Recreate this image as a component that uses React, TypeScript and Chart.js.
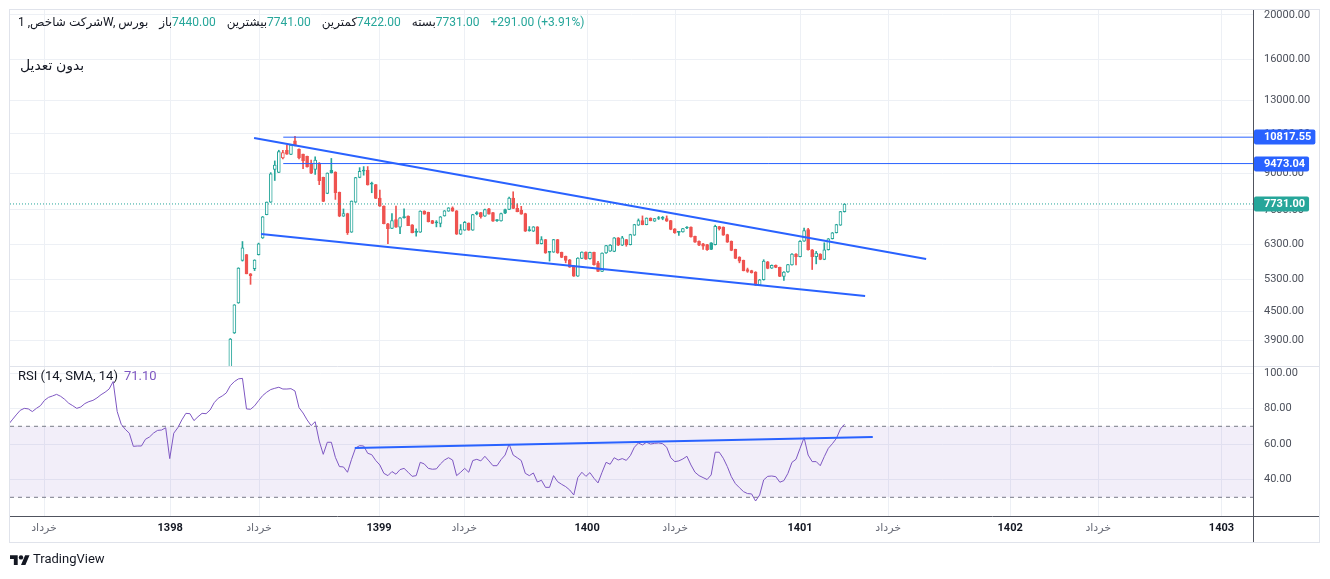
import React, { useEffect, useRef } from 'react';
import { Chart, registerables } from 'chart.js';

Chart.register(...registerables);

// ---------- data ----------
const opens = [
  3350, 4040, 4700, 5820, 5990, 5440, 5580, 5990, 6520, 7330,
  7800, 9200, 9060, 9745, 10130, 9920, 10620, 10180, 9930, 9830,
  9500, 9200, 9500, 8840, 8150, 9160, 9075, 8200, 7270, 7370,
  6710, 7800, 8830, 9160, 9160, 8560, 8520, 7960, 7650, 7000,
  6840, 7150, 6880, 7250, 7270, 6960, 6730, 6710, 7460, 7410,
  7110, 7040, 7010, 7280, 7460, 7580, 7470, 6640, 6775, 7020,
  6775, 7400, 7400, 7270, 7540, 7400, 7130, 7100, 7520, 7520,
  7960, 7560, 7500, 7370, 6780, 6740, 6890, 6330, 6460, 6080,
  6070, 6460, 6060, 5940, 5840, 5665, 5380, 5880, 6070, 5870,
  6060, 5750, 5510, 6040, 6100, 6090, 6520, 6280, 6460, 6300,
  6610, 6950, 7110, 6970, 7200, 7090, 7200, 7210, 7180, 7110,
  6820, 6720, 6720, 6880, 6880, 6570, 6410, 6330, 6300, 6360,
  6300, 6900, 6880, 6630, 6410, 6150, 5920, 5820, 5560, 5530,
  5490, 5140, 5280, 5780, 5600, 5680, 5620, 5370, 5490, 5690,
  6010, 5930, 6410, 6800, 6140, 5930, 6010, 5850, 6140, 6490,
  6690, 6950, 7440,
];
const highs = [
  3930, 4660, 5610, 6400, 6000, 5450, 5840, 6350, 7260, 7810,
  9050, 9600, 10130, 10130, 10390, 10400, 10870, 10200, 9940, 9840,
  9635, 9800, 9520, 8850, 9040, 9720, 9090, 8210, 7540, 7380,
  7850, 8840, 9280, 9330, 9330, 8630, 8530, 8290, 7660, 7010,
  7370, 7650, 7220, 7540, 7280, 6970, 6820, 7470, 7470, 7420,
  7120, 7110, 7260, 7480, 7590, 7620, 7480, 6970, 7080, 7030,
  7340, 7440, 7410, 7530, 7560, 7410, 7150, 7380, 7530, 8000,
  8220, 7740, 7640, 7380, 6900, 6900, 6900, 6560, 6470, 6090,
  6470, 6470, 6070, 5950, 5850, 5670, 5900, 6080, 6080, 6070,
  6070, 5790, 6050, 6280, 6300, 6530, 6530, 6570, 6470, 6640,
  6980, 7170, 7280, 7210, 7210, 7190, 7260, 7260, 7280, 7120,
  6830, 6730, 6840, 6900, 6890, 6580, 6420, 6340, 6310, 6370,
  6950, 6910, 6890, 6640, 6420, 6160, 5930, 5830, 5600, 5540,
  5500, 5290, 5840, 5790, 5690, 5690, 5630, 5500, 5710, 6020,
  6020, 6430, 6850, 6840, 6150, 6090, 6020, 6360, 6500, 6700,
  6980, 7450, 7741,
];
const lows = [
  3330, 4030, 4690, 5800, 5440, 5160, 5530, 5980, 6500, 7320,
  7790, 8700, 9050, 9700, 9920, 9910, 10350, 9700, 9230, 9300,
  9000, 8970, 8520, 7820, 8140, 9030, 7910, 7250, 7260, 6630,
  6700, 7790, 8820, 8935, 8500, 8180, 7940, 7640, 6990, 6330,
  6830, 6870, 6660, 7200, 6930, 6680, 6575, 6700, 7340, 7060,
  7000, 6890, 6890, 7270, 7450, 7450, 6630, 6630, 6770, 6770,
  6770, 7320, 7200, 7260, 7340, 7080, 7080, 7090, 7360, 7510,
  7550, 7430, 7340, 6730, 6740, 6730, 6320, 6320, 6030, 5800,
  6060, 6030, 5900, 5750, 5620, 5370, 5370, 5870, 5850, 5860,
  5680, 5500, 5500, 6030, 6090, 6080, 6270, 6270, 6250, 6290,
  6600, 6940, 6960, 6960, 7100, 7080, 7150, 7140, 7080, 6790,
  6670, 6600, 6710, 6830, 6540, 6370, 6270, 6150, 6120, 6140,
  6290, 6780, 6600, 6370, 6110, 5870, 5750, 5520, 5480, 5460,
  5130, 5130, 5270, 5580, 5590, 5610, 5360, 5260, 5480, 5680,
  5690, 5920, 6400, 6130, 5560, 5720, 5840, 5840, 6130, 6480,
  6680, 6940, 7422,
];
const closes = [
  3918, 4655, 5600, 6200, 5440, 5390, 5830, 6330, 7250, 7800,
  9000, 9400, 10060, 10010, 9930, 10390, 10360, 9745, 9600, 9320,
  9030, 9635, 8690, 7830, 9030, 9040, 8180, 7270, 7370, 6690,
  7840, 8830, 9110, 9120, 8510, 8540, 7950, 7650, 7000, 6830,
  7110, 6880, 7210, 7220, 6935, 6690, 6700, 7460, 7345, 7070,
  7010, 7030, 7250, 7470, 7580, 7460, 6640, 6800, 7045, 6775,
  7330, 7350, 7250, 7520, 7345, 7090, 7110, 7370, 7380, 7960,
  7560, 7440, 7345, 6740, 6760, 6890, 6330, 6460, 6040, 6060,
  6460, 6040, 5910, 5820, 5625, 5380, 5890, 6070, 5860, 6060,
  5700, 5510, 6040, 6270, 6290, 6520, 6280, 6520, 6300, 6630,
  6970, 7110, 6970, 7200, 7110, 7180, 7185, 7190, 7090, 6800,
  6680, 6700, 6830, 6850, 6550, 6380, 6280, 6250, 6140, 6150,
  6910, 6830, 6610, 6380, 6120, 5880, 5800, 5530, 5510, 5470,
  5140, 5280, 5800, 5590, 5680, 5620, 5370, 5490, 5700, 6010,
  5930, 6410, 6760, 6140, 5930, 6040, 5850, 6140, 6490, 6690,
  6970, 7440, 7731,
];

// weekly RSI (14, SMA 14), first value is 55 weeks before the first candle
const RSI_START_WEEK = -55;
const rsiValues = [
  70.8, 73.6, 76.4, 79.0, 80.1, 79.8, 78.3, 80.1, 81.6, 84.6,
  86.3, 87.1, 88.0, 86.9, 85.2, 83.0, 81.6, 80.1, 80.9, 82.8,
  83.9, 84.6, 86.0, 87.8, 89.2, 91.0, 95.2, 78.3, 71.1, 68.3,
  66.1, 58.7, 58.9, 58.9, 62.7, 64.0, 66.2, 67.7, 67.9, 69.2,
  51.8, 66.1, 69.2, 73.6, 77.3, 77.1, 73.2, 75.4, 77.3, 77.1,
  79.2, 83.3, 85.8, 87.1, 88.8, 92.9, 95.2, 96.7, 97.0, 79.8,
  79.6, 81.5, 84.5, 87.3, 89.2, 90.7, 91.4, 92.0, 91.0, 91.0,
  91.2, 89.9, 80.5, 77.5, 73.6, 70.4, 72.6, 61.7, 54.2, 61.0,
  61.0, 52.5, 47.3, 47.1, 44.1, 51.4, 57.8, 59.1, 58.9, 54.8,
  54.0, 50.7, 48.2, 43.5, 42.2, 44.5, 43.0, 45.6, 46.3, 44.1,
  41.8, 42.2, 49.7, 48.8, 46.3, 45.8, 46.0, 48.8, 51.0, 52.3,
  51.0, 42.2, 44.1, 46.3, 44.1, 50.7, 51.4, 50.5, 53.1, 50.5,
  47.8, 47.8, 51.2, 53.8, 60.0, 53.8, 52.3, 50.7, 43.5, 42.2,
  43.7, 38.6, 39.6, 35.6, 35.6, 42.2, 38.8, 37.3, 36.0, 34.1,
  31.3, 41.1, 44.1, 41.8, 43.9, 40.7, 38.1, 44.1, 49.7, 48.6,
  52.3, 51.0, 51.8, 50.8, 53.5, 58.2, 60.6, 59.5, 61.0, 60.0,
  60.4, 60.6, 60.2, 58.2, 52.3, 50.1, 50.5, 51.6, 53.1, 48.2,
  44.1, 42.2, 41.1, 40.0, 42.6, 55.4, 55.4, 52.0, 47.3, 41.6,
  37.7, 35.4, 33.2, 32.1, 31.9, 27.9, 31.3, 39.8, 41.8, 42.0,
  41.6, 38.5, 39.4, 43.5, 49.7, 51.4, 57.6, 63.6, 53.8, 50.1,
  50.1, 47.8, 52.9, 57.6, 60.2, 63.2, 68.5, 71.1,
];

// time axis (in weeks from the first candle)
const timeTicks = [-46.1, -14.9, 7.1, 36.8, 57.9, 88.3, 110.1, 141.0, 162.8, 193.0, 214.8, 245.3];
const timeLabels = ['خرداد', '1398', 'خرداد', '1399', 'خرداد', '1400', 'خرداد', '1401', 'خرداد', '1402', 'خرداد', '1403'];
const priceTicks = [3900, 4500, 5300, 6300, 7500, 9000, 11000, 13000, 16000, 20000];
const rsiTicks = [40, 60, 80, 100];

const X_MIN = -54.53;
const X_MAX = 253.1;
const PRICE_MIN = 3422;
const PRICE_MAX = 20509;
const RSI_MIN = 19.46;
const RSI_MAX = 103.97;

// drawings
const upperTrend = [{ x: 5.87, y: 10772 }, { x: 172.2, y: 5862 }];
const lowerTrend = [{ x: 7.6, y: 6648 }, { x: 157.1, y: 4866 }];
const levelHigh = 10817.55;
const levelMid = 9473.04;
const levelStartWeek = 13.1;
const rsiTrend = [{ x: 30.8, y: 57.8 }, { x: 159.0, y: 64.0 }];
const rsiUpper = 70;
const rsiLower = 30;

// texts
const titleText = 'شرکت شاخص, 1W, بورس';
const ohlcLabels = ['باز', 'بیشترین', 'کمترین', 'بسته'];
const adjustText = 'بدون تعدیل';
const rsiTitle = 'RSI (14, SMA, 14)';

// ---------- styles ----------
const FONT = 'Roboto, "DejaVu Sans", "Noto Sans", sans-serif';
const GREEN = '#26a69a';
const RED = '#ef5350';
const BLUE = '#2962ff';
const PURPLE = '#7e57c2';
const GRID = '#edf0f5';
const FRAME = '#e0e3eb';
const AXIS = '#50535e';
const TEXT = '#131722';
const AXIS_TEXT = '#4c505b';

export default function App() {
  const topRef = useRef<HTMLCanvasElement>(null);
  const botRef = useRef<HTMLCanvasElement>(null);

  useEffect(() => {
    const n = closes.length;
    const last = n - 1;
    const candleColor = closes.map((c, i) => (i === 0 || c >= closes[i - 1] ? GREEN : RED));
    const bodyFill = closes.map((c, i) => (c > opens[i] ? '#ffffff' : candleColor[i]));
    const wickData = closes.map((_, i) => ({ x: i, y: [lows[i], highs[i]] }));
    const bodyData = closes.map((c, i) => ({ x: i, y: [Math.min(opens[i], c), Math.max(opens[i], c)] }));
    const rsiData = rsiValues.map((v, i) => ({ x: RSI_START_WEEK + i, y: v }));

    const overlayTop = {
      id: 'overlayTop',
      afterDraw(chart: any) {
        const { ctx, chartArea } = chart;
        const yS = chart.scales.y;
        ctx.save();
        const ax = Math.round(chartArea.right) + 0.5;
        ctx.strokeStyle = AXIS;
        ctx.lineWidth = 1;
        ctx.beginPath();
        ctx.moveTo(ax, chartArea.top);
        ctx.lineTo(ax, chart.height);
        ctx.stroke();

        const tag = (v: number, bg: string) => {
          const py = Math.round(yS.getPixelForValue(v));
          ctx.font = `bold 11px ${FONT}`;
          const t = v.toFixed(2);
          const w = ctx.measureText(t).width;
          ctx.fillStyle = bg;
          ctx.beginPath();
          ctx.roundRect(ax + 0.5, py - 7.5, 10 + w + 4, 15, 2);
          ctx.fill();
          ctx.fillStyle = '#ffffff';
          ctx.textAlign = 'left';
          ctx.textBaseline = 'middle';
          ctx.fillText(t, chartArea.right + 11, py + 0.5);
        };
        tag(levelHigh, BLUE);
        tag(levelMid, BLUE);
        tag(closes[last], GREEN);

        // legend header
        ctx.font = `12px ${FONT}`;
        ctx.textAlign = 'left';
        ctx.textBaseline = 'middle';
        const hy = 23;
        let x = 18;
        ctx.fillStyle = TEXT;
        ctx.fillText(titleText, x, hy);
        x += ctx.measureText(titleText).width + 11;
        const vals = [opens[last], highs[last], lows[last], closes[last]];
        const chg = closes[last] - closes[last - 1];
        const valColor = chg >= 0 ? GREEN : RED;
        ohlcLabels.forEach((lab, i) => {
          ctx.fillStyle = TEXT;
          ctx.fillText(lab, x, hy);
          x += ctx.measureText(lab).width;
          const s = vals[i].toFixed(2);
          ctx.fillStyle = valColor;
          ctx.fillText(s, x, hy);
          x += ctx.measureText(s).width + 11;
        });
        const pct = (chg / closes[last - 1]) * 100;
        const sign = chg >= 0 ? '+' : '';
        ctx.fillStyle = valColor;
        ctx.fillText(`${sign}${chg.toFixed(2)} (${sign}${pct.toFixed(2)}%)`, x, hy);

        ctx.font = `14px ${FONT}`;
        ctx.fillStyle = TEXT;
        ctx.fillText(adjustText, 20, 66);
        ctx.restore();
      },
    };

    const overlayBottom = {
      id: 'overlayBottom',
      afterDraw(chart: any) {
        const { ctx, chartArea } = chart;
        ctx.save();
        ctx.lineWidth = 1;
        // pane separator
        ctx.strokeStyle = FRAME;
        ctx.beginPath();
        ctx.moveTo(10, 0.5);
        ctx.lineTo(1320, 0.5);
        ctx.stroke();
        // time axis line
        const by = Math.round(chartArea.bottom) + 0.5;
        ctx.strokeStyle = AXIS;
        ctx.beginPath();
        ctx.moveTo(10, by);
        ctx.lineTo(1320, by);
        ctx.stroke();
        // price axis line
        const ax = Math.round(chartArea.right) + 0.5;
        ctx.beginPath();
        ctx.moveTo(ax, 0);
        ctx.lineTo(ax, 177);
        ctx.stroke();

        // RSI legend
        ctx.font = `13px ${FONT}`;
        ctx.textAlign = 'left';
        ctx.textBaseline = 'middle';
        ctx.fillStyle = TEXT;
        ctx.fillText(rsiTitle, 18, 11);
        const w = ctx.measureText(rsiTitle).width;
        ctx.fillStyle = PURPLE;
        ctx.fillText(rsiValues[rsiValues.length - 1].toFixed(2), 18 + w + 6, 11);

        // TradingView logo
        ctx.save();
        ctx.translate(10, 187);
        ctx.scale(0.55, 0.55);
        ctx.fillStyle = TEXT;
        ctx.fill(new Path2D('M14 22H7V11H0V4h14v18zM28 22h-8l7.5-18h8L28 22z'));
        ctx.beginPath();
        ctx.arc(20, 8, 4, 0, Math.PI * 2);
        ctx.fill();
        ctx.restore();
        ctx.font = `13px ${FONT}`;
        ctx.fillStyle = TEXT;
        ctx.fillText('TradingView', 33, 194);
        ctx.restore();
      },
    };

    const xCommon = {
      type: 'linear' as const,
      min: X_MIN,
      max: X_MAX,
      offset: false,
      afterBuildTicks: (s: any) => {
        s.ticks = timeTicks.map((v) => ({ value: v }));
      },
      grid: { color: GRID, drawTicks: false, offset: false },
      border: { display: false },
    };

    const chartTop = new Chart(topRef.current as HTMLCanvasElement, {
      type: 'bar',
      data: {
        datasets: [
          {
            type: 'bar',
            data: wickData as any,
            backgroundColor: candleColor,
            borderWidth: 0,
            barThickness: 1,
            grouped: false,
            order: 5,
          } as any,
          {
            type: 'bar',
            data: bodyData as any,
            backgroundColor: bodyFill,
            borderColor: candleColor,
            borderWidth: 1,
            borderSkipped: false,
            barThickness: 3,
            minBarLength: 1,
            grouped: false,
            order: 4,
          } as any,
          {
            type: 'line',
            data: [{ x: X_MIN, y: closes[last] }, { x: X_MAX, y: closes[last] }],
            borderColor: GREEN,
            borderWidth: 1,
            borderDash: [1, 2],
            pointRadius: 0,
            order: 3,
          } as any,
          {
            type: 'line',
            data: [{ x: levelStartWeek, y: levelHigh }, { x: X_MAX, y: levelHigh }],
            borderColor: BLUE,
            borderWidth: 1,
            pointRadius: 0,
            order: 2,
          } as any,
          {
            type: 'line',
            data: [{ x: levelStartWeek, y: levelMid }, { x: X_MAX, y: levelMid }],
            borderColor: BLUE,
            borderWidth: 1,
            pointRadius: 0,
            order: 2,
          } as any,
          {
            type: 'line',
            data: upperTrend,
            borderColor: BLUE,
            borderWidth: 2,
            pointRadius: 0,
            order: 1,
          } as any,
          {
            type: 'line',
            data: lowerTrend,
            borderColor: BLUE,
            borderWidth: 2,
            pointRadius: 0,
            order: 1,
          } as any,
        ],
      },
      options: {
        responsive: false,
        animation: false,
        events: [],
        layout: { padding: { left: 10, top: 10, right: 0, bottom: 0 } },
        plugins: { legend: { display: false }, tooltip: { enabled: false } },
        scales: {
          x: {
            ...xCommon,
            ticks: { display: false },
            afterFit: (s: any) => {
              s.height = 0;
              s.paddingLeft = 0;
              s.paddingRight = 0;
            },
          } as any,
          y: {
            type: 'logarithmic',
            position: 'right',
            min: PRICE_MIN,
            max: PRICE_MAX,
            afterBuildTicks: (s: any) => {
              s.ticks = priceTicks.map((v) => ({ value: v }));
            },
            ticks: {
              autoSkip: false,
              padding: 11,
              color: AXIS_TEXT,
              font: { family: FONT, size: 11 },
              callback: (v: any) => Number(v).toFixed(2),
            },
            grid: { color: GRID, drawTicks: false },
            border: { display: false },
            afterFit: (s: any) => {
              s.width = 77;
              s.paddingTop = 0;
              s.paddingBottom = 0;
            },
          } as any,
        },
      },
      plugins: [overlayTop],
    });

    const chartBottom = new Chart(botRef.current as HTMLCanvasElement, {
      type: 'line',
      data: {
        datasets: [
          {
            data: [{ x: X_MIN, y: rsiUpper }, { x: X_MAX, y: rsiUpper }],
            borderColor: '#787b86',
            borderWidth: 1,
            borderDash: [4, 4],
            pointRadius: 0,
            fill: { value: rsiLower },
            backgroundColor: 'rgba(126,87,194,0.1)',
            order: 4,
          } as any,
          {
            data: [{ x: X_MIN, y: rsiLower }, { x: X_MAX, y: rsiLower }],
            borderColor: '#787b86',
            borderWidth: 1,
            borderDash: [4, 4],
            pointRadius: 0,
            fill: false,
            order: 4,
          } as any,
          {
            data: rsiData,
            borderColor: PURPLE,
            borderWidth: 1,
            pointRadius: 0,
            fill: false,
            order: 2,
          } as any,
          {
            data: rsiTrend,
            borderColor: BLUE,
            borderWidth: 2,
            pointRadius: 0,
            fill: false,
            order: 1,
          } as any,
        ],
      },
      options: {
        responsive: false,
        animation: false,
        events: [],
        layout: { padding: { left: 10, top: 0, right: 0, bottom: 36 } },
        plugins: { legend: { display: false }, tooltip: { enabled: false } },
        scales: {
          x: {
            ...xCommon,
            ticks: {
              autoSkip: false,
              maxRotation: 0,
              padding: 6,
              callback: (_v: any, i: number) => timeLabels[i],
              color: (c: any) => (/^\d/.test(timeLabels[c.index] || '') ? TEXT : '#6a6d78'),
              font: (c: any) => ({
                family: FONT,
                size: 11,
                weight: /^\d/.test(timeLabels[c.index] || '') ? 'bold' : 'normal',
              }),
            },
            afterFit: (s: any) => {
              s.height = 27;
              s.paddingLeft = 0;
              s.paddingRight = 0;
            },
          } as any,
          y: {
            type: 'linear',
            position: 'right',
            min: RSI_MIN,
            max: RSI_MAX,
            afterBuildTicks: (s: any) => {
              s.ticks = rsiTicks.map((v) => ({ value: v }));
            },
            ticks: {
              autoSkip: false,
              padding: 11,
              color: AXIS_TEXT,
              font: { family: FONT, size: 11 },
              callback: (v: any) => Number(v).toFixed(2),
            },
            grid: { color: GRID, drawTicks: false },
            border: { display: false },
            afterFit: (s: any) => {
              s.width = 77;
              s.paddingTop = 0;
              s.paddingBottom = 0;
            },
          } as any,
        },
      },
      plugins: [overlayBottom],
    });

    return () => {
      chartTop.destroy();
      chartBottom.destroy();
    };
  }, []);

  return (
    <div
      style={{
        position: 'fixed',
        left: 0,
        top: 0,
        width: 1330,
        height: 579,
        background: '#ffffff',
        overflow: 'hidden',
      }}
    >
      <canvas
        ref={topRef}
        width={1330}
        height={366}
        style={{ position: 'absolute', left: 0, top: 0, width: 1330, height: 366 }}
      />
      <canvas
        ref={botRef}
        width={1330}
        height={213}
        style={{ position: 'absolute', left: 0, top: 366, width: 1330, height: 213 }}
      />
      <div
        style={{
          position: 'absolute',
          left: 9,
          top: 9,
          width: 1311,
          height: 534,
          border: `1px solid ${FRAME}`,
          boxSizing: 'border-box',
          pointerEvents: 'none',
        }}
      />
    </div>
  );
}
